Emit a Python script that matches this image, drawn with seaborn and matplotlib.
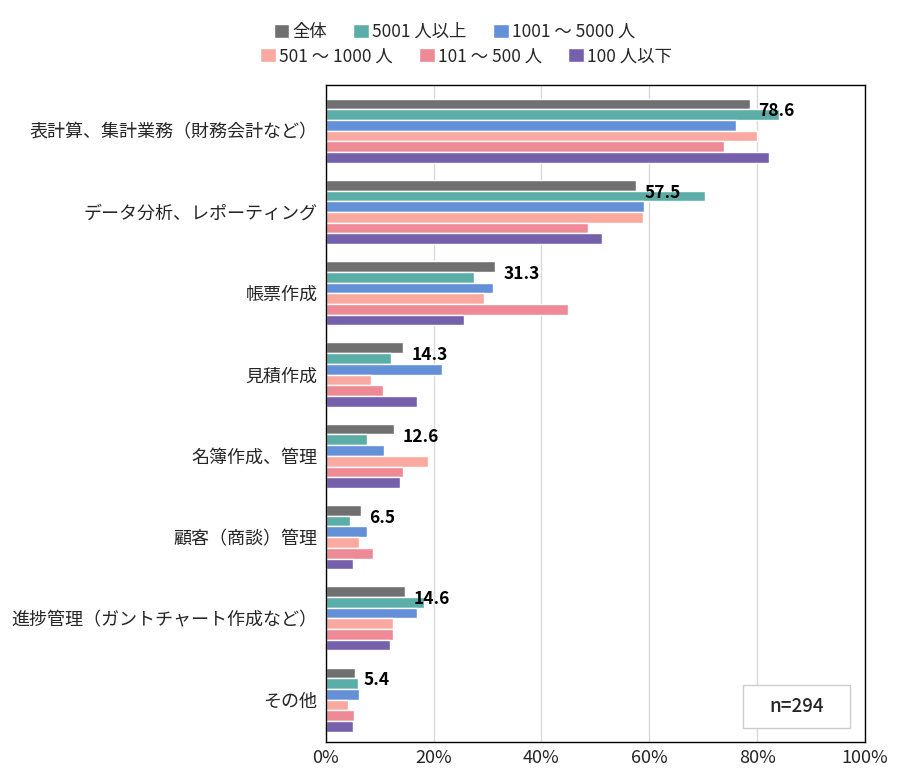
import pandas as pd
import matplotlib.pyplot as plt
import seaborn as sns
from matplotlib.patches import Rectangle

categories = ["表計算、集計業務（財務会計など）", "データ分析、レポーティング", "帳票作成", "見積作成",
              "名簿作成、管理", "顧客（商談）管理", "進捗管理（ガントチャート作成など）", "その他"]
groups = ["全体", "5001 人以上", "1001 ～ 5000 人", "501 ～ 1000 人", "101 ～ 500 人", "100 人以下"]

total = [78.6, 57.5, 31.3, 14.3, 12.6, 6.5, 14.6, 5.4]
over5001 = [84.1, 70.4, 27.5, 12.1, 7.6, 4.4, 18.2, 6.0]
s1001_5000 = [76.1, 59.1, 31.0, 21.6, 10.8, 7.6, 16.9, 6.2]
s501_1000 = [80.0, 58.8, 29.4, 8.3, 18.9, 6.2, 12.5, 4.1]
s101_500 = [73.9, 48.6, 45.0, 10.6, 14.3, 8.8, 12.5, 5.3]
under100 = [82.2, 51.3, 25.6, 17.0, 13.7, 5.0, 11.9, 5.0]

colors = ["#707070", "#5BADA8", "#6490D8", "#F9A99F", "#EE8A96", "#7560AC"]

series = [total, over5001, s1001_5000, s501_1000, s101_500, under100]
rows = []
for g, vals in zip(groups, series):
    for c, v in zip(categories, vals):
        rows.append({"category": c, "group": g, "value": v})
df = pd.DataFrame(rows)

sns.set_theme(style="white")
plt.rcParams['font.family'] = ['Noto Sans CJK JP', 'DejaVu Sans']

fig = plt.figure(figsize=(9, 7.81), dpi=100)
ax = fig.add_axes([0.362, 0.050, 0.599, 0.841])

sns.barplot(data=df, x="value", y="category", hue="group", palette=colors, saturation=1,
            orient="h", width=0.79, edgecolor="white", linewidth=1, ax=ax, legend=False)

ax.set_xlim(0, 100)
ax.set_ylim(7.52, -0.56)
ax.set_xticks([0, 20, 40, 60, 80, 100])
ax.set_xticklabels([f"{t}%" for t in [0, 20, 40, 60, 80, 100]], fontsize=13)
ax.tick_params(axis="y", labelsize=13, length=0, pad=6)
ax.tick_params(axis="x", length=0, pad=5)
ax.set_xlabel("")
ax.set_ylabel("")
ax.xaxis.grid(True, color="#d9d9d9", linewidth=1)
ax.set_axisbelow(True)
for s in ax.spines.values():
    s.set_color("black")
    s.set_linewidth(1)

# value labels for 全体
bw = 0.79 / len(groups)
for i, v in enumerate(total):
    ax.text(v + 1.6, i - 0.395 + bw * 1.2, f"{v}", fontsize=12.5, fontweight="bold",
            va="center", ha="left", color="black")

# n box
ax.add_patch(Rectangle((0.774, 0.021), 0.198, 0.066, transform=ax.transAxes,
                       facecolor="white", edgecolor="#cccccc", linewidth=1, zorder=5))
ax.text(0.873, 0.054, "n=294", transform=ax.transAxes, ha="center", va="center",
        fontsize=13.5, fontweight="medium", zorder=6)

handles = [Rectangle((0, 0), 1, 1, facecolor=c) for c in colors]
fig.legend(handles[:3], groups[:3], loc="center", bbox_to_anchor=(0.505, 0.959),
           ncol=3, frameon=False, fontsize=12.5, handlelength=0.9, handleheight=0.9,
           handletextpad=0.2, columnspacing=1.5, borderaxespad=0)
fig.legend(handles[3:], groups[3:], loc="center", bbox_to_anchor=(0.518, 0.928),
           ncol=3, frameon=False, fontsize=12.5, handlelength=0.9, handleheight=0.9,
           handletextpad=0.2, columnspacing=1.5, borderaxespad=0)

fig.savefig("out.png", dpi=100)
